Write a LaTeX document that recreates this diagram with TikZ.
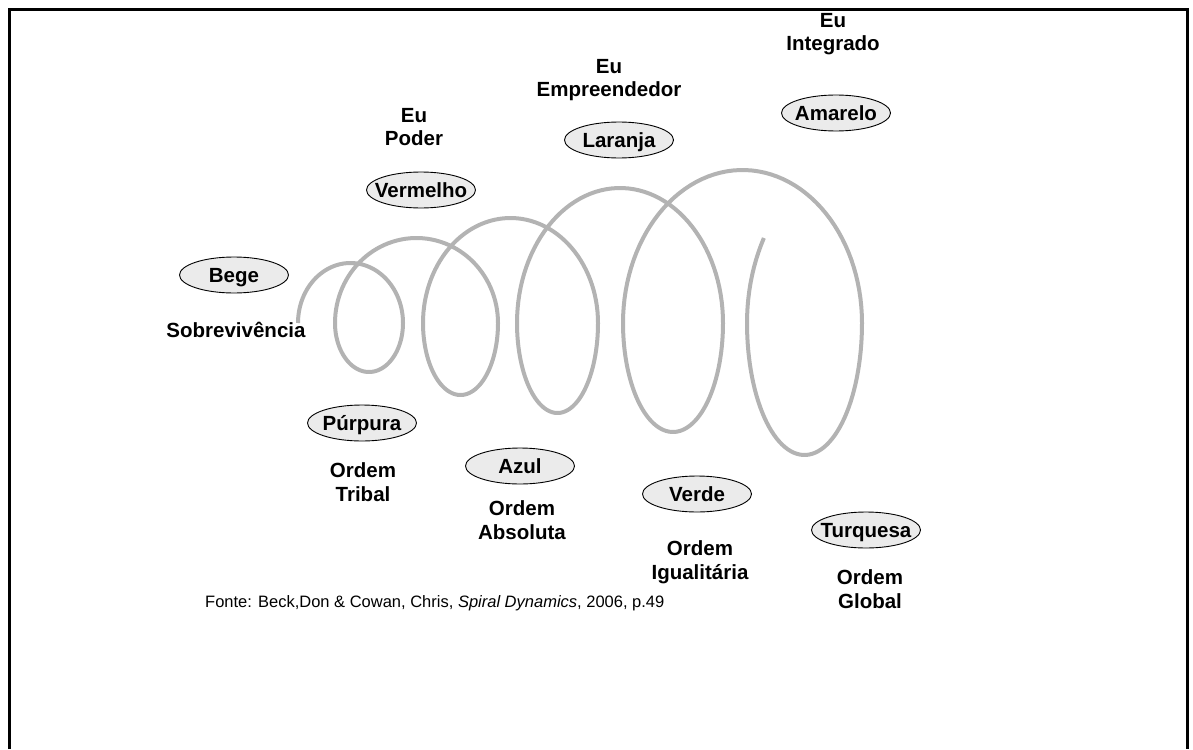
\documentclass[tikz,border=0pt]{standalone}
\usepackage{fontspec}
\setmainfont{Liberation Sans}
\usetikzlibrary{shapes.geometric}
\definecolor{coilgray}{HTML}{B3B3B3}
\definecolor{ovalfill}{HTML}{EBEBEB}
% label whose width does not widen its oval
\newcommand{\ovaltext}[1]{\makebox[0pt]{#1}}
\begin{document}
\begin{tikzpicture}[x=1pt,y=-1pt,
  colour/.style={ellipse, draw=black, line width=0.9pt, fill=ovalfill,
    minimum width=109pt, minimum height=36pt, inner sep=0pt,
    text height=14.7pt, text depth=0pt,
    font=\fontsize{20.5}{24}\selectfont\bfseries},
  caption/.style={align=center, inner sep=0pt,
    font=\fontsize{20.5}{23.5}\selectfont\bfseries},
  coil/.style={draw=coilgray, line width=4pt, line join=round},
  upper/.style={domain=180:360, samples=60, variable=\t},
  lower/.style={domain=0:180, samples=60, variable=\t}]
\useasboundingbox (0,0) rectangle (1193,749);

% frame, open at the bottom
\draw[line width=2.6pt] (9.7,749) -- (9.7,9.5) -- (1187.2,9.5) -- (1187.2,749);

% the spiral: alternating upper and lower half-ellipses
\draw[coil]
  plot[upper] ({350.5+52.5*cos(\t)},{323+60*sin(\t)})
  -- plot[lower] ({369+34*cos(\t)},{323+49*sin(\t)})
  -- plot[upper] ({416.5+81.5*cos(\t)},{323+85*sin(\t)})
  -- plot[lower] ({460.5+37.5*cos(\t)},{323+72*sin(\t)})
  -- plot[upper] ({510.5+87.5*cos(\t)},{323+105*sin(\t)})
  -- plot[lower] ({557.5+40.5*cos(\t)},{323+90*sin(\t)})
  -- plot[upper] ({620+103*cos(\t)},{323+135*sin(\t)})
  -- plot[lower] ({673+50*cos(\t)},{323+109*sin(\t)})
  -- plot[upper] ({742.5+119.5*cos(\t)},{323+153*sin(\t)})
  -- plot[lower] ({804.5+57.5*cos(\t)},{323+132*sin(\t)})
  -- plot[domain=180:210, samples=12, variable=\t] ({873+126*cos(\t)},{323+170*sin(\t)});

% colour levels
\node[colour] (bege)     at (234,275) {\ovaltext{Bege}};
\node[colour] (vermelho) at (421,190) {\ovaltext{Vermelho}};
\node[colour] (laranja)  at (619,140) {\ovaltext{Laranja}};
\node[colour] (amarelo)  at (836,113) {\ovaltext{Amarelo}};
\node[colour] (purpura)  at (362,423) {\ovaltext{Púrpura}};
\node[colour] (azul)     at (520,466) {\ovaltext{Azul}};
\node[colour] (verde)    at (697,494) {\ovaltext{Verde}};
\node[colour] (turquesa) at (866,530) {\ovaltext{Turquesa}};

% level captions
\node[caption] (sobrev)  at (236,330) {Sobrevivência};
\node[caption] (poder)   at (414,127) {Eu\\Poder};
\node[caption] (empreen) at (609,80) {Eu\\Empreendedor};
\node[caption] (integr)  at (833,34) {Eu\\Integrado};
\node[caption] (tribal)  at (363,482) {Ordem\\Tribal};
\node[caption] (absol)   at (522,520) {Ordem\\Absoluta};
\node[caption] (iguali)  at (700,562) {Ordem\\Igualitária};
\node[caption] (global)  at (870,589) {Ordem\\Global};

% source
\node[anchor=west, inner sep=0pt, font=\fontsize{16.5}{20}\selectfont] (fonte) at (205,603)
  {Fonte: Beck,Don \& Cowan, Chris, \textit{Spiral Dynamics}, 2006, p.49};
\end{tikzpicture}
\end{document}
